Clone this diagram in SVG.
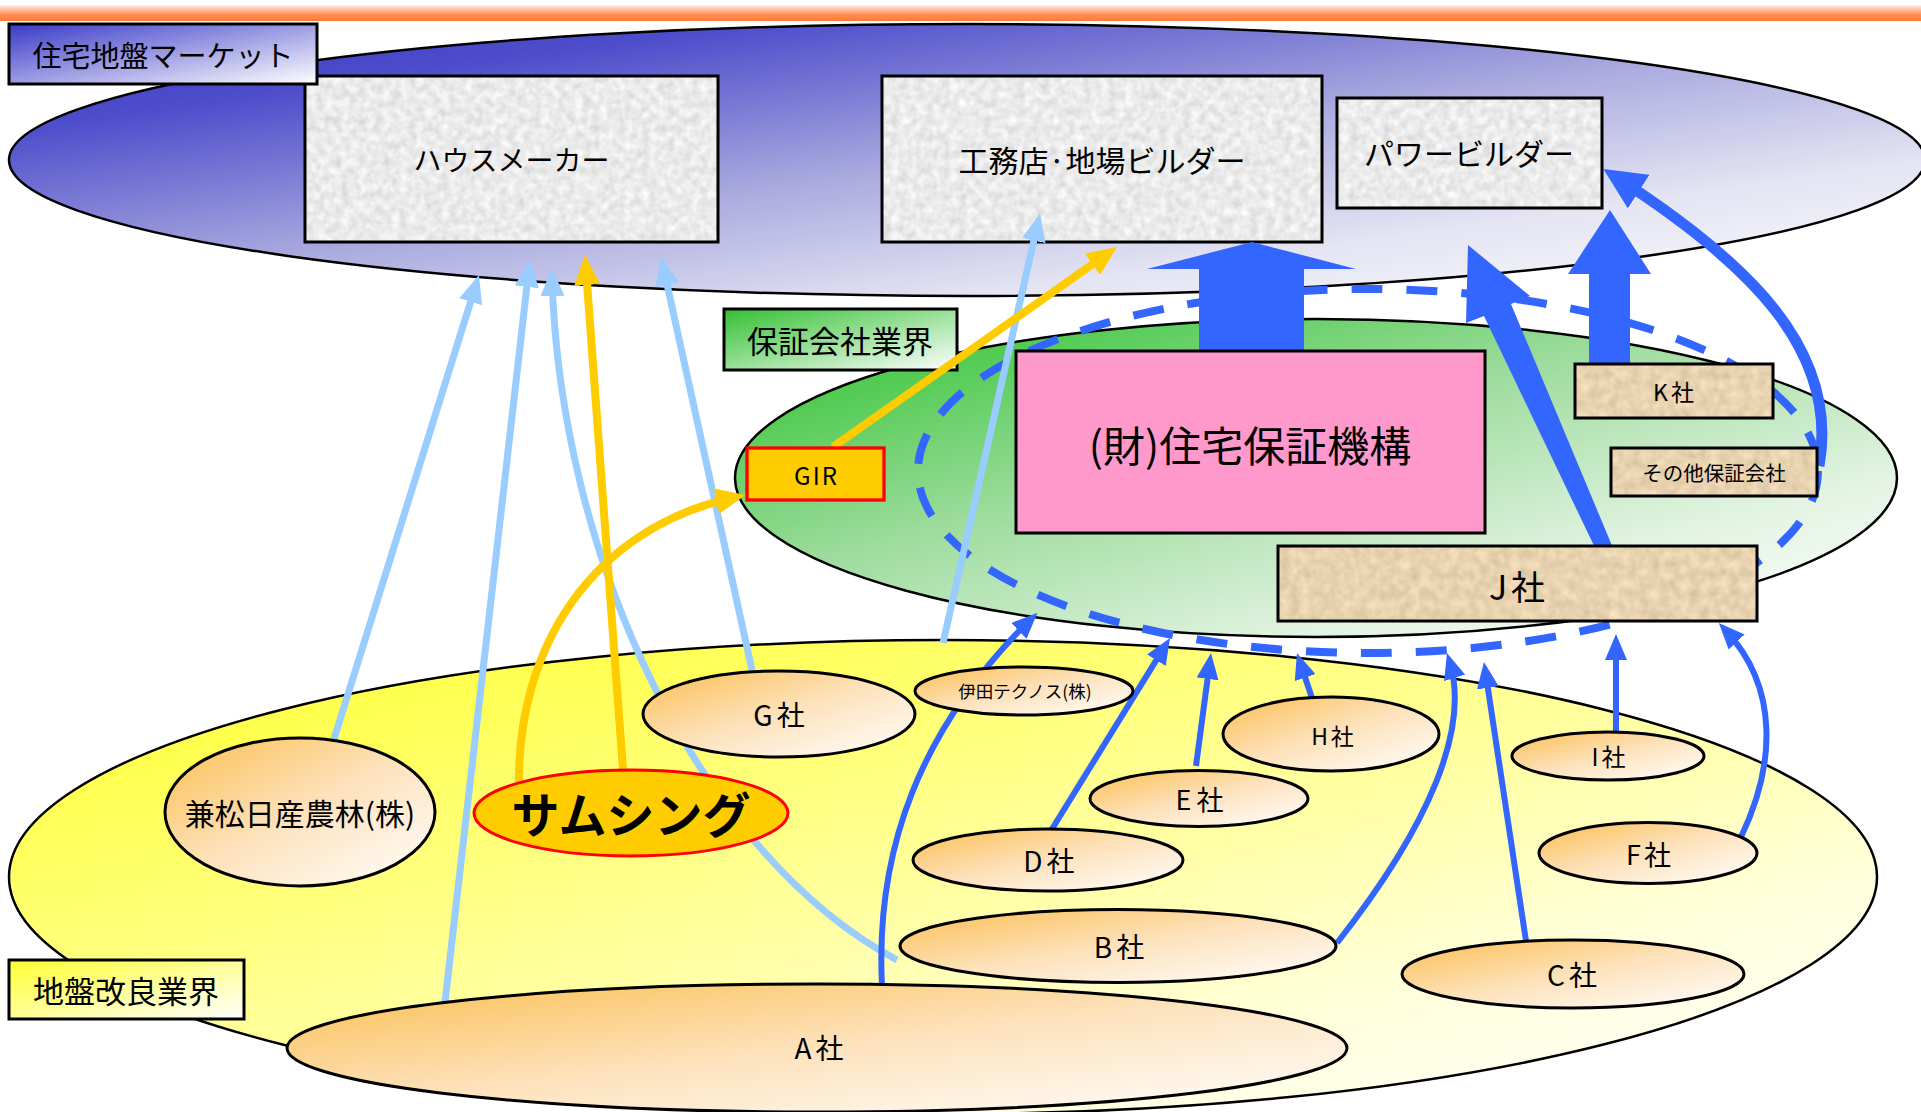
<svg xmlns="http://www.w3.org/2000/svg" width="1921" height="1112" viewBox="0 0 1921 1112">
<defs>
<style>
.t{font-family:"Noto Sans CJK JP","Noto Sans",sans-serif;fill:#000;text-anchor:middle;dominant-baseline:central}
.box{stroke:#000;stroke-width:3;fill:none}
.co{fill:url(#gOr);stroke:#000;stroke-width:3}
.lb{fill:none;stroke:#99CCFF;stroke-width:7;marker-end:url(#mLB)}
.yl{fill:none;stroke:#FFCC00;stroke-width:8;marker-end:url(#mY)}
.bl{fill:none;stroke:#3366FF;stroke-width:6;marker-end:url(#mB)}
.blk{fill:#3366FF}
</style>
<linearGradient id="gBar" x1="0" y1="0" x2="0" y2="1">
<stop offset="0" stop-color="#FFEFE6"/><stop offset="0.6" stop-color="#FF8C50"/><stop offset="1" stop-color="#FF7A3A"/>
</linearGradient>
<linearGradient id="gBlue" x1="0" y1="0" x2="1" y2="1">
<stop offset="0" stop-color="#3030C0"/><stop offset="0.2" stop-color="#4F4FCC"/><stop offset="0.5" stop-color="#AAAADF"/><stop offset="0.75" stop-color="#E4E4F3"/><stop offset="1" stop-color="#FFFFFF"/>
</linearGradient>
<linearGradient id="gGreen" x1="0" y1="0" x2="1" y2="1">
<stop offset="0" stop-color="#33C033"/><stop offset="0.17" stop-color="#55CC55"/><stop offset="0.42" stop-color="#9EDC9E"/><stop offset="0.75" stop-color="#E4F4E4"/><stop offset="1" stop-color="#FFFFFF"/>
</linearGradient>
<linearGradient id="gYel" x1="0" y1="0" x2="1" y2="1">
<stop offset="0" stop-color="#FFFF33"/><stop offset="0.15" stop-color="#FFFF4D"/><stop offset="0.5" stop-color="#FFFF9E"/><stop offset="0.75" stop-color="#FFFFDD"/><stop offset="1" stop-color="#FFFFFF"/>
</linearGradient>
<linearGradient id="gOr" x1="0" y1="0" x2="1" y2="1">
<stop offset="0" stop-color="#FBBE50"/><stop offset="0.5" stop-color="#FDE2BC"/><stop offset="1" stop-color="#FFFFFF"/>
</linearGradient>
<linearGradient id="gLabB" x1="0" y1="0" x2="1" y2="1">
<stop offset="0" stop-color="#3A3AC8"/><stop offset="1" stop-color="#FFFFFF"/>
</linearGradient>
<linearGradient id="gLabG" x1="0" y1="0" x2="1" y2="1">
<stop offset="0" stop-color="#33C033"/><stop offset="1" stop-color="#FFFFFF"/>
</linearGradient>
<linearGradient id="gLabY" x1="0" y1="0" x2="1" y2="1">
<stop offset="0" stop-color="#FFFF33"/><stop offset="1" stop-color="#FFFFFF"/>
</linearGradient>
<filter id="fGrey" x="0" y="0" width="1" height="1" color-interpolation-filters="sRGB">
<feTurbulence type="fractalNoise" baseFrequency="0.12" numOctaves="2" seed="4" result="n"/>
<feColorMatrix in="n" type="matrix" values="0 0 0 0.2 0.82  0 0 0 0.2 0.82  0 0 0 0.2 0.82  0 0 0 0 1" result="c"/>
<feComposite in="c" in2="SourceGraphic" operator="in"/>
</filter>
<filter id="fTan" x="0" y="0" width="1" height="1" color-interpolation-filters="sRGB">
<feTurbulence type="fractalNoise" baseFrequency="0.1" numOctaves="2" seed="9" result="n"/>
<feColorMatrix in="n" type="matrix" values="0 0 0 0.18 0.82  0 0 0 0.18 0.735  0 0 0 0.18 0.60  0 0 0 0 1" result="c"/>
<feComposite in="c" in2="SourceGraphic" operator="in"/>
</filter>
<marker id="mLB" markerUnits="userSpaceOnUse" markerWidth="28" markerHeight="24" refX="19" refY="12" orient="auto"><path d="M0,0 L28,12 L0,24 z" fill="#99CCFF"/></marker>
<marker id="mY" markerUnits="userSpaceOnUse" markerWidth="30" markerHeight="26" refX="20" refY="13" orient="auto"><path d="M0,0 L30,13 L0,26 z" fill="#FFCC00"/></marker>
<marker id="mB" markerUnits="userSpaceOnUse" markerWidth="26" markerHeight="22" refX="17" refY="11" orient="auto"><path d="M0,0 L26,11 L0,22 z" fill="#3366FF"/></marker>
<marker id="mBig" markerUnits="userSpaceOnUse" markerWidth="42" markerHeight="40" refX="27" refY="20" orient="auto"><path d="M0,0 L42,20 L0,40 z" fill="#3366FF"/></marker>
</defs>

<rect id="top-bar" x="0" y="5" width="1921" height="16" fill="url(#gBar)"/>

<g id="market-area"><ellipse cx="967" cy="160" rx="958" ry="136" fill="url(#gBlue)" stroke="#000" stroke-width="2.5"/></g>
<g id="ground-industry-area"><ellipse cx="943" cy="877" rx="934" ry="237" fill="url(#gYel)" stroke="#000" stroke-width="2.5"/></g>
<g id="guarantee-industry-area"><ellipse cx="1316" cy="478" rx="581" ry="159" fill="url(#gGreen)" stroke="#000" stroke-width="2.5"/></g>

<g id="house-maker"><rect x="305" y="76" width="413" height="166" fill="#e6e6e6" filter="url(#fGrey)"/><rect class="box" x="305" y="76" width="413" height="166"/><text class="t" x="511.5" y="159" font-size="28">ハウスメーカー</text></g>
<g id="local-builder"><rect x="882" y="76" width="440" height="166" fill="#e6e6e6" filter="url(#fGrey)"/><rect class="box" x="882" y="76" width="440" height="166"/><text class="t" x="1102" y="159" font-size="30">工務店·地場ビルダー</text></g>
<g id="power-builder"><rect x="1337" y="98" width="265" height="110" fill="#e6e6e6" filter="url(#fGrey)"/><rect class="box" x="1337" y="98" width="265" height="110"/><text class="t" x="1469" y="152" font-size="30">パワービルダー</text></g>

<g id="label-market"><rect x="9" y="24" width="308" height="60" fill="url(#gLabB)" stroke="#000" stroke-width="3"/><text class="t" x="163" y="54" font-size="29">住宅地盤マーケット</text></g>
<g id="label-guarantee"><rect x="724" y="309" width="233" height="61" fill="url(#gLabG)" stroke="#000" stroke-width="3"/><text class="t" x="840" y="339" font-size="31">保証会社業界</text></g>
<g id="label-ground"><rect x="9" y="960" width="235" height="59" fill="url(#gLabY)" stroke="#000" stroke-width="3"/><text class="t" x="126" y="989" font-size="31">地盤改良業界</text></g>

<g id="guarantee-group"><ellipse cx="1368" cy="471" rx="450" ry="182" fill="none" stroke="#3366FF" stroke-width="8" stroke-dasharray="31 24"/></g>

<g id="connectors">
<path class="lb" d="M334,739 L476.3,283.6"/>
<path class="lb" d="M445,1002 L529,268"/>
<path class="lb" d="M897,960 C700,855 560,560 552,277"/>
<path class="lb" d="M752,670 L663,266"/>
<path class="lb" d="M943,643 L1038,222"/>
<path class="yl" d="M623,770 L585.7,265"/>
<path class="yl" d="M519,785 C517,650 590,528 736,497"/>
<path class="yl" d="M833,447 L1108.8,252.7"/>
<path class="bl" d="M882,986 C875,850 920,728 1031,619"/>
<path class="bl" d="M1052,829 L1165.3,645.7"/>
<path class="bl" d="M1196,766 L1209.8,662"/>
<path class="bl" d="M1312,698 L1299.8,661.5"/>
<path class="bl" d="M1337,943 C1430,825 1470,728 1449.6,661.6"/>
<path class="bl" d="M1526,941 L1485.3,671"/>
<path class="bl" d="M1616,732 L1616,643"/>
<path class="bl" d="M1741,837 C1775,766 1780,688 1725,629.6"/>
<path d="M1819,466 C1840,350 1748,262 1616,177" fill="none" stroke="#3366FF" stroke-width="11" marker-end="url(#mBig)"/>
<polygon class="blk" points="1252,242 1356,269 1304,269 1304,354 1199,354 1199,269 1147,269"/>
<polygon class="blk" points="1610,210 1651,274 1630,274 1630,367 1589,367 1589,274 1568,274"/>
<polygon class="blk" points="1468,245 1530,296 1511,304 1613,548 1597,552 1484,316 1466,323"/>
</g>

<g id="kanematsu"><ellipse class="co" cx="300" cy="812" rx="135" ry="74"/><text class="t" x="300" y="812" font-size="30">兼松日産農林(株)</text></g>
<g id="g-sha"><ellipse class="co" cx="779" cy="714" rx="136" ry="43"/><text class="t" x="781" y="714" font-size="28" letter-spacing="4">G社</text></g>
<g id="something"><ellipse cx="631" cy="813" rx="157" ry="43" fill="#FFCC00" stroke="#FF0000" stroke-width="3"/><text class="t" x="631" y="812" font-size="48" font-weight="bold">サムシング</text></g>
<g id="ida-technos"><ellipse class="co" cx="1024" cy="691" rx="109" ry="24"/><text class="t" x="1025" y="690" font-size="17.5">伊田テクノス(株)</text></g>
<g id="h-sha"><ellipse class="co" cx="1331" cy="734" rx="108" ry="37"/><text class="t" x="1334" y="735" font-size="23" letter-spacing="3">H社</text></g>
<g id="e-sha"><ellipse class="co" cx="1199" cy="798.5" rx="109" ry="28"/><text class="t" x="1202" y="798" font-size="27" letter-spacing="5">E社</text></g>
<g id="i-sha"><ellipse class="co" cx="1608" cy="756" rx="96" ry="24"/><text class="t" x="1610" y="755" font-size="24" letter-spacing="3">I社</text></g>
<g id="d-sha"><ellipse class="co" cx="1048" cy="860" rx="135" ry="31"/><text class="t" x="1051" y="860" font-size="28" letter-spacing="4">D社</text></g>
<g id="f-sha"><ellipse class="co" cx="1648" cy="853" rx="109" ry="30.5"/><text class="t" x="1650" y="853" font-size="27" letter-spacing="3">F社</text></g>
<g id="b-sha"><ellipse class="co" cx="1118" cy="946" rx="218" ry="36.5"/><text class="t" x="1121" y="946" font-size="28" letter-spacing="4">B社</text></g>
<g id="c-sha"><ellipse class="co" cx="1573" cy="974" rx="171" ry="34"/><text class="t" x="1574" y="974" font-size="28" letter-spacing="4">C社</text></g>
<g id="a-sha"><ellipse class="co" cx="817" cy="1048" rx="530" ry="64"/><text class="t" x="821" y="1047" font-size="28" letter-spacing="4">A社</text></g>

<g id="jutaku-hosho-kiko"><rect x="1016" y="351" width="469" height="182" fill="#FF99CC" stroke="#000" stroke-width="3"/><text class="t" x="1250" y="443" font-size="42">(財)住宅保証機構</text></g>
<g id="k-sha"><rect x="1575" y="364" width="198" height="54" fill="#E8D2AE" filter="url(#fTan)"/><rect class="box" x="1575" y="364" width="198" height="54"/><text class="t" x="1675" y="391" font-size="23" letter-spacing="3">K社</text></g>
<g id="other-guarantee"><rect x="1611" y="448" width="206" height="48" fill="#E8D2AE" filter="url(#fTan)"/><rect class="box" x="1611" y="448" width="206" height="48"/><text class="t" x="1714" y="472" font-size="20.5">その他保証会社</text></g>
<g id="j-sha"><rect x="1278" y="546" width="479" height="75" fill="#E8D2AE" filter="url(#fTan)"/><rect class="box" x="1278" y="546" width="479" height="75"/><text class="t" x="1519" y="585" font-size="34" letter-spacing="4">J社</text></g>
<g id="gir"><rect x="747" y="448" width="137" height="52" fill="#FFCC00" stroke="#FF0000" stroke-width="3.3"/><text class="t" x="816.5" y="474" font-size="24" letter-spacing="2">GIR</text></g>
</svg>
